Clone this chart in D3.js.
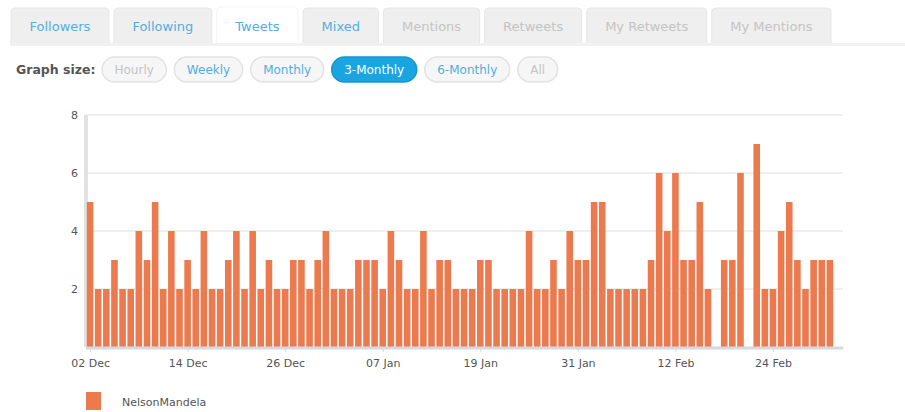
<!DOCTYPE html>
<html>
<head>
<meta charset="utf-8">
<script src="https://cdnjs.cloudflare.com/ajax/libs/d3/7.8.5/d3.min.js"></script>
<style>
  body { margin: 0; background: #fff; }
  svg { display: block; font-family: "DejaVu Sans", sans-serif; }
</style>
</head>
<body>
<div id="chart"></div>
<script>
var tabNames = ["Followers", "Following", "Tweets", "Mixed", "Mentions", "Retweets", "My Retweets", "My Mentions"];
var tabEnabled = [true, true, true, true, false, false, false, false];
var activeTab = "Tweets";

var sizeNames = ["Hourly", "Weekly", "Monthly", "3-Monthly", "6-Monthly", "All"];
var sizeEnabled = [false, true, true, true, true, false];
var activeSize = "3-Monthly";

var seriesName = "NelsonMandela";
var startDay = "2012-12-02";
// tweets per day, one value per day from 02 Dec
var tweets = [
  5, 2, 2, 3, 2, 2, 4, 3, 5, 2, 4, 2, 3, 2, 4, 2, 2, 3, 4,
  2, 4, 2, 3, 2, 2, 3, 3, 2, 3, 4, 2, 2, 2, 3, 3, 3, 2, 4,
  3, 2, 2, 4, 2, 3, 3, 2, 2, 2, 3, 3, 2, 2, 2, 2, 4, 2,
  2, 3, 2, 4, 3, 3, 5, 5, 2, 2, 2, 2, 2, 3, 6, 4, 6, 3,
  3, 5, 2, 0, 3, 3, 6, 0, 7, 2, 2, 4, 5, 3, 2, 3, 3, 3
];
var xTicks = ["2012-12-02", "2012-12-14", "2012-12-26", "2013-01-07", "2013-01-19", "2013-01-31", "2013-02-12", "2013-02-24"];
var yTicks = [2, 4, 6, 8];

var width = 905, height = 412;
var svg = d3.select("#chart").append("svg").attr("width", width).attr("height", height);

var parse = d3.utcParse("%Y-%m-%d");
var day0 = parse(startDay);
var data = tweets.map(function(v, i) {
  return { date: d3.utcDay.offset(day0, i), value: v };
});

// ---- tabs ----
var tabsG = svg.append("g");
svg.append("rect").attr("x", 10).attr("y", 43).attr("width", width - 10).attr("height", 3).attr("fill", "#f1f1f1");
var tx = 11;
tabNames.forEach(function(name, i) {
  var active = name === activeTab;
  var g = tabsG.append("g");
  var t = g.append("text")
    .attr("y", 31)
    .attr("font-size", 13)
    .attr("fill", tabEnabled[i] ? "#52aee0" : "#c4c4c4")
    .text(name);
  var w = t.node().getComputedTextLength() + 37;
  t.attr("x", tx + w / 2).attr("text-anchor", "middle");
  g.insert("path", "text")
    .attr("d", "M" + tx + ",46 V" + (active ? 11 : 12) + " q0,-4 4,-4 H" + (tx + w - 4) + " q4,0 4,4 V46")
    .attr("fill", active ? "#fff" : "#efefef")
    .attr("stroke", active ? "#f4f4f4" : "#e6e6e6")
    .attr("stroke-width", 1);
  tx += w + 5;
});

// ---- graph size buttons ----
svg.append("text").attr("x", 16).attr("y", 74).attr("font-size", 12.5)
  .attr("font-weight", "bold").attr("fill", "#555").text("Graph size:");
var bx = 102;
sizeNames.forEach(function(name, i) {
  var active = name === activeSize;
  var g = svg.append("g");
  var t = g.append("text")
    .attr("y", 74)
    .attr("font-size", 12)
    .attr("text-anchor", "middle")
    .attr("fill", active ? "#fff" : (sizeEnabled[i] ? "#52aee0" : "#c4c4c4"))
    .text(name);
  var w = t.node().getComputedTextLength() + 25;
  t.attr("x", bx + w / 2);
  g.insert("rect", "text")
    .attr("x", bx).attr("y", 57).attr("width", w).attr("height", 25)
    .attr("rx", 12.5)
    .attr("fill", active ? "#1ba5e0" : "#f6f6f6")
    .attr("stroke", active ? "#1797cf" : "#e2e2e2")
    .attr("stroke-width", 1.5);
  bx += w + 8;
});

// ---- chart ----
var x0 = 86, x1 = 843, yTop = 115, yBot = 347;
var dayPx = 8.13;
var x = d3.scaleUtc()
  .domain([d3.utcHour.offset(day0, -12), new Date(+day0 - 12 * 36e5 + (x1 - x0) / dayPx * 864e5)])
  .range([x0, x1]);
var y = d3.scaleLinear().domain([0, 8]).range([yBot, yTop]);

svg.append("g").selectAll("line").data(yTicks).join("line")
  .attr("x1", x0).attr("x2", x1)
  .attr("y1", function(d) { return y(d); }).attr("y2", function(d) { return y(d); })
  .attr("stroke", "#efefef").attr("stroke-width", 2);

var yAxis = svg.append("g").attr("transform", "translate(" + x0 + ",0)")
  .call(d3.axisLeft(y).tickValues(yTicks).tickSize(0).tickPadding(8).tickFormat(d3.format("d")));
yAxis.select(".domain").remove();
yAxis.selectAll("text").attr("font-size", 11).attr("fill", "#555").attr("font-family", "DejaVu Sans");

svg.append("rect").attr("x", x0 - 2).attr("y", yTop).attr("width", 4).attr("height", yBot - yTop)
  .attr("fill", "#e2e2e2");

var barW = 6.6;
svg.append("g").selectAll("rect").data(data.filter(function(d) { return d.value > 0; })).join("rect")
  .attr("x", function(d) { return x(d.date) - barW / 2; })
  .attr("y", function(d) { return y(d.value); })
  .attr("width", barW)
  .attr("height", function(d) { return yBot - y(d.value); })
  .attr("fill", "#ec7a4f");

var xAxis = svg.append("g").attr("transform", "translate(0," + yBot + ")")
  .call(d3.axisBottom(x).tickValues(xTicks.map(parse)).tickSize(5).tickPadding(7)
    .tickFormat(d3.utcFormat("%d %b")));
xAxis.select(".domain").attr("stroke", "#d5d8de").attr("stroke-width", 3)
  .attr("d", "M" + x0 + ",1H" + x1);
xAxis.selectAll(".tick line").attr("stroke", "#d5d8de");
xAxis.selectAll("text").attr("font-size", 11).attr("fill", "#555").attr("font-family", "DejaVu Sans");

// ---- legend ----
svg.append("rect").attr("x", 86).attr("y", 392).attr("width", 15).attr("height", 18).attr("fill", "#ec7a4f");
svg.append("text").attr("x", 122).attr("y", 406).attr("font-size", 11).attr("fill", "#555").text(seriesName);
</script>
</body>
</html>
